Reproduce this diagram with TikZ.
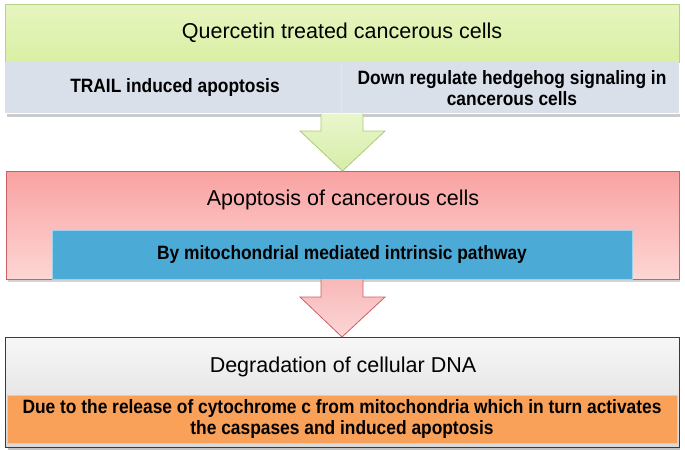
\documentclass[tikz,border=0pt]{standalone}
\usepackage{fontspec}
\setmainfont{Liberation Sans}
\newfontfamily\narrowsans[FakeStretch=0.9]{Liberation Sans}
\usetikzlibrary{calc}
\definecolor{greenTop}{HTML}{E6F5C0}
\definecolor{greenBot}{HTML}{DAEFA4}
\definecolor{greenLine}{HTML}{B5D485}
\definecolor{bandFill}{HTML}{D9E0EA}
\definecolor{bandDiv}{HTML}{E1E7EF}
\definecolor{redTop}{HTML}{F9A2A2}
\definecolor{redBot}{HTML}{FDD6D4}
\definecolor{redLine}{HTML}{CC5E68}
\definecolor{blueFill}{HTML}{4BABD6}
\definecolor{blueLine}{HTML}{9ED2EC}
\definecolor{grayTop}{HTML}{F7F7F7}
\definecolor{grayBot}{HTML}{D8D8D8}
\definecolor{grayLine}{HTML}{3A3A3A}
\definecolor{orangeFill}{HTML}{F9A059}
\definecolor{orangeLine}{HTML}{FBC58F}
\definecolor{arrGreenTop}{HTML}{E9F6CC}
\definecolor{arrGreenBot}{HTML}{D6EDA8}
\definecolor{arrGreenLine}{HTML}{A9CC72}
\definecolor{arrRedTop}{HTML}{F8B8B8}
\definecolor{arrRedBot}{HTML}{FCD6D6}
\definecolor{shadowCol}{HTML}{A8A8A8}
\tikzset{
  boxbase/.style={rectangle, inner sep=0pt, outer sep=0pt},
  titletext/.style={font=\fontsize{21.5}{25}\selectfont, text=black},
  boldtext/.style={font=\narrowsans\fontsize{19.3}{20.5}\selectfont\bfseries, text=black, align=center},
  flowarrow/.style={line width=0.8pt, line join=miter},
}
\begin{document}
\begin{tikzpicture}[x=1pt,y=-1pt]
\useasboundingbox (0,0) rectangle (685,455);
% shadows
\fill[shadowCol!60] (7,114) rectangle (680,116.5);
\fill[shadowCol!50] (8,279.5) rectangle (680,281.5);
\fill[shadowCol!70] (8,447.5) rectangle (680,450);
% top green box
\node[boxbase, minimum width=674pt, minimum height=58pt, top color=greenTop, bottom color=greenBot, draw=greenLine, line width=0.6pt] (qbox) at (342,33) {};
\node[titletext] (qtext) at (qbox.center) {Quercetin treated cancerous cells};
% band
\node[boxbase, minimum width=674pt, minimum height=51pt, fill=bandFill] (band) at (342,87.5) {};
\draw[bandDiv, line width=0.8pt] (band.north) ++(-1,0) -- ($(band.south)+(-1,0)$);
\node[boldtext] (trail) at (175,88) {TRAIL induced apoptosis};
\node[boldtext] (hedge) at (512,88) {Down regulate hedgehog signaling in\\cancerous cells};
% red box
\node[boxbase, minimum width=673pt, minimum height=108pt, top color=redTop, bottom color=redBot, draw=redLine, line width=0.8pt] (rbox) at (342.5,225) {};
\node[titletext] (rtext) at (343,200) {Apoptosis of cancerous cells};
\node[boxbase, minimum width=580pt, minimum height=49pt, fill=blueFill, draw=blueLine, line width=0.8pt] (bbox) at (342,254.5) {};
\node[boldtext] (btext) at (bbox.center) {By mitochondrial mediated intrinsic pathway};
% green arrow
\draw[flowarrow, top color=arrGreenTop, bottom color=arrGreenBot, draw=arrGreenLine]
  ($(band.south)+(-21,0.5)$) -- ++(0,17.5) -- ++(-21,0) -- (rbox.north) -- ($(band.south)+(43,18)$) -- ++(-22,0) -- ($(band.south)+(21,0.5)$);
% gray box
\node[boxbase, minimum width=674pt, minimum height=110pt, top color=grayTop, bottom color=grayBot, draw=grayLine, line width=0.8pt] (gbox) at (342,392) {};
\node[titletext] (gtext) at (343,367) {Degradation of cellular DNA};
\node[boxbase, minimum width=670pt, minimum height=48pt, fill=orangeFill, draw=orangeLine, line width=0.8pt] (obox) at (342,419) {};
\node[boldtext] (otext) at (obox.center) {Due to the release of cytochrome c from mitochondria which in turn activates\\the caspases and induced apoptosis};
% red arrow
\draw[flowarrow, top color=arrRedTop, bottom color=arrRedBot, draw=redLine]
  ($(bbox.south)+(-21,0.5)$) -- ++(0,17.5) -- ++(-21,0) -- (gbox.north) -- ($(bbox.south)+(43,18)$) -- ++(-22,0) -- ($(bbox.south)+(21,0.5)$);
\end{tikzpicture}
\end{document}
